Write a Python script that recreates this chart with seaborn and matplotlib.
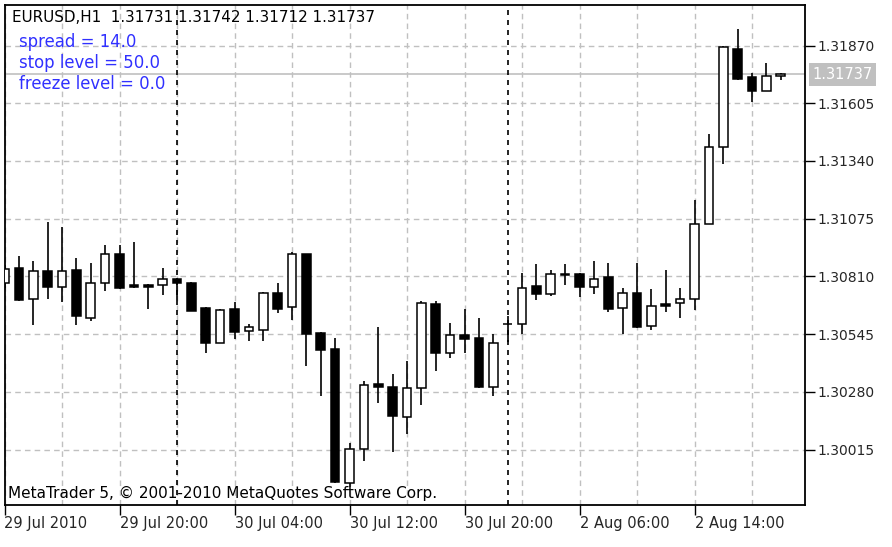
import matplotlib
matplotlib.use('Agg')
import matplotlib.pyplot as plt
import seaborn as sns
import numpy as np
import pandas as pd

# EURUSD H1 bars, 29 Jul 2010 12:00 .. 2 Aug 2010 19:00
opens = [1.30780, 1.30848, 1.30705, 1.30837, 1.30760, 1.30840, 1.30621, 1.30779, 1.30913, 1.30771,
         1.30773, 1.30771, 1.30799, 1.30782, 1.30667, 1.30506, 1.30659, 1.30560, 1.30564, 1.30733,
         1.30671, 1.30912, 1.30552, 1.30479, 1.29861, 1.30017, 1.30317, 1.30304, 1.30164, 1.30297,
         1.30682, 1.30460, 1.30541, 1.30526, 1.30301, 1.30590, 1.30592, 1.30766, 1.30728, 1.30821,
         1.30821, 1.30763, 1.30806, 1.30664, 1.30733, 1.30583, 1.30684, 1.30690, 1.30705, 1.31049,
         1.31403, 1.31854, 1.31724, 1.31663, 1.31731]
highs = [1.30863, 1.30904, 1.30881, 1.31061, 1.31036, 1.30896, 1.30873, 1.30955, 1.30955, 1.30970,
         1.30776, 1.30848, 1.30803, 1.30785, 1.30670, 1.30661, 1.30694, 1.30592, 1.30737, 1.30782,
         1.30924, 1.30913, 1.30555, 1.30526, 1.30045, 1.30330, 1.30577, 1.30363, 1.30424, 1.30699,
         1.30699, 1.30595, 1.30659, 1.30618, 1.30546, 1.30629, 1.30825, 1.30866, 1.30840, 1.30866,
         1.30826, 1.30881, 1.30873, 1.30756, 1.30873, 1.30751, 1.30840, 1.30756, 1.31161, 1.31463,
         1.31866, 1.31944, 1.31742, 1.31791, 1.31742]
lows = [1.30757, 1.30698, 1.30587, 1.30705, 1.30694, 1.30587, 1.30607, 1.30745, 1.30751, 1.30756,
        1.30661, 1.30725, 1.30702, 1.30652, 1.30458, 1.30503, 1.30522, 1.30514, 1.30515, 1.30644,
        1.30610, 1.30399, 1.30262, 1.29862, 1.29844, 1.29965, 1.30228, 1.30006, 1.30087, 1.30220,
        1.30378, 1.30435, 1.30460, 1.30298, 1.30262, 1.30511, 1.30546, 1.30702, 1.30720, 1.30771,
        1.30717, 1.30730, 1.30648, 1.30546, 1.30572, 1.30564, 1.30648, 1.30618, 1.30656, 1.31049,
        1.31326, 1.31712, 1.31612, 1.31661, 1.31712]
closes = [1.30844, 1.30702, 1.30837, 1.30760, 1.30837, 1.30629, 1.30782, 1.30912, 1.30759, 1.30762,
          1.30762, 1.30797, 1.30779, 1.30653, 1.30506, 1.30656, 1.30555, 1.30577, 1.30733, 1.30659,
          1.30912, 1.30546, 1.30473, 1.29867, 1.30017, 1.30312, 1.30303, 1.30170, 1.30297, 1.30690,
          1.30460, 1.30541, 1.30523, 1.30301, 1.30503, 1.30592, 1.30756, 1.30728, 1.30821, 1.30817,
          1.30760, 1.30797, 1.30659, 1.30733, 1.30577, 1.30675, 1.30675, 1.30705, 1.31051, 1.31403,
          1.31864, 1.31716, 1.31663, 1.31730, 1.31737]

time_tick_bars = [0, 8, 16, 24, 32, 40, 48]
time_tick_labels = ['29 Jul 2010', '29 Jul 20:00', '30 Jul 04:00', '30 Jul 12:00',
                    '30 Jul 20:00', '2 Aug 06:00', '2 Aug 14:00']
price_ticks = [1.30015, 1.30280, 1.30545, 1.30810, 1.31075, 1.31340, 1.31605, 1.31870]
day_separators = [12, 35]
bid = 1.31737
header = 'EURUSD,H1  1.31731 1.31742 1.31712 1.31737'
info_lines = ['spread = 14.0', 'stop level = 50.0', 'freeze level = 0.0']
copyright_txt = 'MetaTrader 5, \u00a9 2001-2010 MetaQuotes Software Corp.'

sns.set_style('white')
plt.rcParams['font.family'] = ['DejaVu Sans']
plt.rcParams['font.size'] = 10.5

df = pd.DataFrame(dict(o=opens, h=highs, l=lows, c=closes))
df['bar'] = np.arange(len(df))
df['up'] = df.c >= df.o
df['body_lo'] = df[['o', 'c']].min(axis=1)
df['body_h'] = (df.c - df.o).abs().clip(lower=0.00001)

W, H = 892, 547
fig = plt.figure(figsize=(W / 100, H / 100), dpi=100)
ax = fig.add_axes([4.5 / W, (H - 505) / H, 800.5 / W, 500 / H])

grid_kw = dict(color='#c0c0c0', lw=1, ls=(0, (4, 3)))

# wicks then bodies
ax.vlines(df.bar, df.l, df.h, color='black', lw=1.2, zorder=3)
ax.bar(df.bar, df.body_h, bottom=df.body_lo, width=0.6,
       color=np.where(df.up, 'white', 'black'), edgecolor='black', lw=1.1, zorder=4)

ax.axhline(bid, color='#c0c0c0', lw=1.2, zorder=2)
for s in day_separators:
    ax.axvline(s, color='black', lw=1.2, ls=(0, (3, 3)), zorder=2)

ax.set_xlim(0, 800.5 / 14.375)
ax.set_ylim(1.297612, 1.320559)

ax.set_xticks(time_tick_bars)
ax.set_xticklabels(time_tick_labels)
for lab in ax.get_xticklabels():
    lab.set_horizontalalignment('left')
ax.set_xticks([b + 4 for b in time_tick_bars], minor=True)
ax.tick_params(axis='x', which='major', direction='out', length=7, width=1,
               color='black', pad=1, bottom=True)
ax.tick_params(axis='x', which='minor', length=0)

ax.yaxis.tick_right()
ax.set_yticks(price_ticks)
ax.set_yticklabels([f'{p:.5f}' for p in price_ticks])
ax.tick_params(axis='y', direction='out', length=7, width=1, color='black', pad=2,
               right=True, labelsize=10)

ax.set_axisbelow(True)
ax.grid(True, which='both', axis='x', **grid_kw)
ax.grid(True, which='major', axis='y', **grid_kw)
for sp in ax.spines.values():
    sp.set_visible(True)
    sp.set_color('black')
    sp.set_linewidth(1.3)

ax.text(1.009, bid, f'{bid:.5f}', transform=ax.get_yaxis_transform(), color='white',
        va='center', ha='left', fontsize=10.5,
        bbox=dict(facecolor='#c0c0c0', edgecolor='none', boxstyle='square,pad=0.25'))

fig.text(12 / W, 1 - 18 / H, header, color='black', va='center', ha='left', fontsize=10.9)
for k, line in enumerate(info_lines):
    fig.text(19 / W, 1 - (42 + 21 * k) / H, line, color='#3030ff', va='center', ha='left',
             fontsize=11.9)
fig.text(8 / W, 1 - 493 / H, copyright_txt, color='black', va='center', ha='left',
         fontsize=11)

fig.savefig('out.png', dpi=100, facecolor='white')
